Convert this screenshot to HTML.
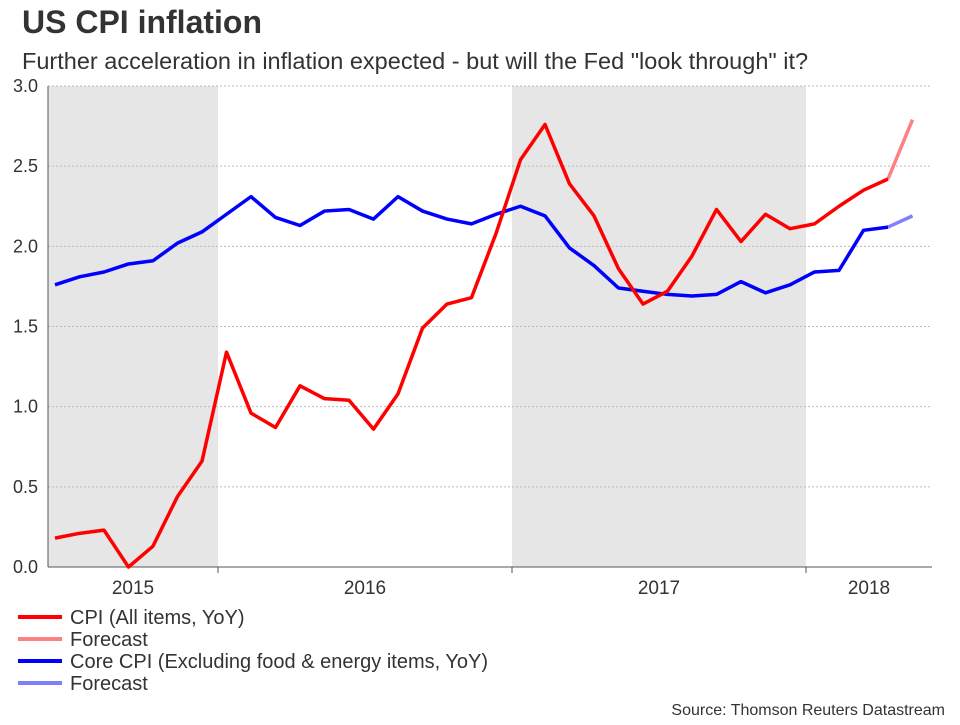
<!DOCTYPE html>
<html><head><meta charset="utf-8"><style>
body{margin:0;background:#fff;width:960px;height:720px;overflow:hidden;font-family:"Liberation Sans",Arial,sans-serif;}
</style></head><body>
<svg id="chart" width="960" height="720" xmlns="http://www.w3.org/2000/svg" font-family="Liberation Sans, Arial, sans-serif">
<text x="22" y="33" font-size="32" font-weight="bold" fill="#333">US CPI inflation</text>
<text x="22" y="69" font-size="23.5" fill="#333">Further acceleration in inflation expected - but will the Fed "look through" it?</text>
<g id="shade"></g><g id="grid"></g><g id="axes"></g><g id="series"></g>
<g font-size="20" fill="#333">
<line x1="18" y1="617" x2="62" y2="617" stroke="#ff0000" stroke-width="4"/><text x="70" y="624">CPI (All items, YoY)</text>
<line x1="18" y1="639" x2="62" y2="639" stroke="#ff8080" stroke-width="4"/><text x="70" y="646">Forecast</text>
<line x1="18" y1="661" x2="62" y2="661" stroke="#0000ff" stroke-width="4"/><text x="70" y="668">Core CPI (Excluding food &amp; energy items, YoY)</text>
<line x1="18" y1="683" x2="62" y2="683" stroke="#8080ff" stroke-width="4"/><text x="70" y="690">Forecast</text>
</g>
<text x="945" y="715" text-anchor="end" font-size="16" fill="#333">Source: Thomson Reuters Datastream</text>
</svg>
<script>
const cpi=[0.18,0.21,0.23,0.00,0.13,0.44,0.66,1.34,0.96,0.87,1.13,1.05,1.04,0.86,1.08,1.49,1.64,1.68,2.08,2.54,2.76,2.39,2.19,1.86,1.64,1.72,1.94,2.23,2.03,2.20,2.11,2.14,2.25,2.35,2.42];
const cpiForecast=[2.42,2.79];
const core=[1.76,1.81,1.84,1.89,1.91,2.02,2.09,2.20,2.31,2.18,2.13,2.22,2.23,2.17,2.31,2.22,2.17,2.14,2.20,2.25,2.19,1.99,1.88,1.74,1.72,1.70,1.69,1.70,1.78,1.71,1.76,1.84,1.85,2.10,2.12];
const coreForecast=[2.12,2.19];
const yTicks=[0,0.5,1.0,1.5,2.0,2.5,3.0];
const yearLabels=["2015","2016","2017","2018"];
const NS="http://www.w3.org/2000/svg";
const X0=48,X1=932,Y0=567,Y3=86;
const xs=i=>55+i*24.5;
const ys=v=>Y0-(v/3)*(Y0-Y3);
const yearStart=k=>218+(k-1)*294;
function mk(p,tag,a){const e=document.createElementNS(NS,tag);for(const k in a)e.setAttribute(k,a[k]);document.getElementById(p).appendChild(e);return e;}
let r;
r=mk('shade','rect',{x:X0,y:Y3,width:yearStart(1)-X0,height:Y0-Y3,fill:'#e6e6e6'});


r=mk('shade','rect',{x:yearStart(2),y:Y3,width:yearStart(3)-yearStart(2),height:Y0-Y3,fill:'#e6e6e6'});


yTicks.forEach(t=>{
 const l=mk('grid','line',{x1:X0,x2:X1,y1:ys(t),y2:ys(t),stroke:'#bbb','stroke-dasharray':'2,2'});
 
 
 const tx=mk('axes','text',{x:38,y:ys(t)+6,'text-anchor':'end','font-size':18,fill:'#333'});
 tx.textContent=t.toFixed(1);
 
 
});
let ax=mk('axes','line',{x1:X0,x2:X0,y1:Y3,y2:Y0,stroke:'#555'});


ax=mk('axes','line',{x1:X0,x2:X1,y1:Y0,y2:Y0,stroke:'#555'});


yearLabels.forEach((y,k)=>{
 const a=Math.max(X0,yearStart(k)),b=Math.min(X1,yearStart(k+1));
 if(k>0){const t=mk('axes','line',{x1:yearStart(k),x2:yearStart(k),y1:Y0,y2:Y0+6,stroke:'#555'});
  
  }
 const tx=mk('axes','text',{x:(a+b)/2,y:Y0+27,'text-anchor':'middle','font-size':19,fill:'#333'});
 tx.textContent=y;
 
 
});
function line(arr,off,color,name){
 const d=arr.map((v,i)=>(i?'L':'M')+xs(i+off)+','+ys(v)).join(' ');
 const p=mk('series','path',{d:d,fill:'none',stroke:color,'stroke-width':3.5,'stroke-linejoin':'round'});
 
 
}
line(cpiForecast,cpi.length-1,'#ff8080','cpi-forecast-line');
line(coreForecast,core.length-1,'#8080ff','core-forecast-line');
line(core,0,'#0000ff','core-cpi-line');
line(cpi,0,'#ff0000','cpi-line');
</script>
</body></html>
